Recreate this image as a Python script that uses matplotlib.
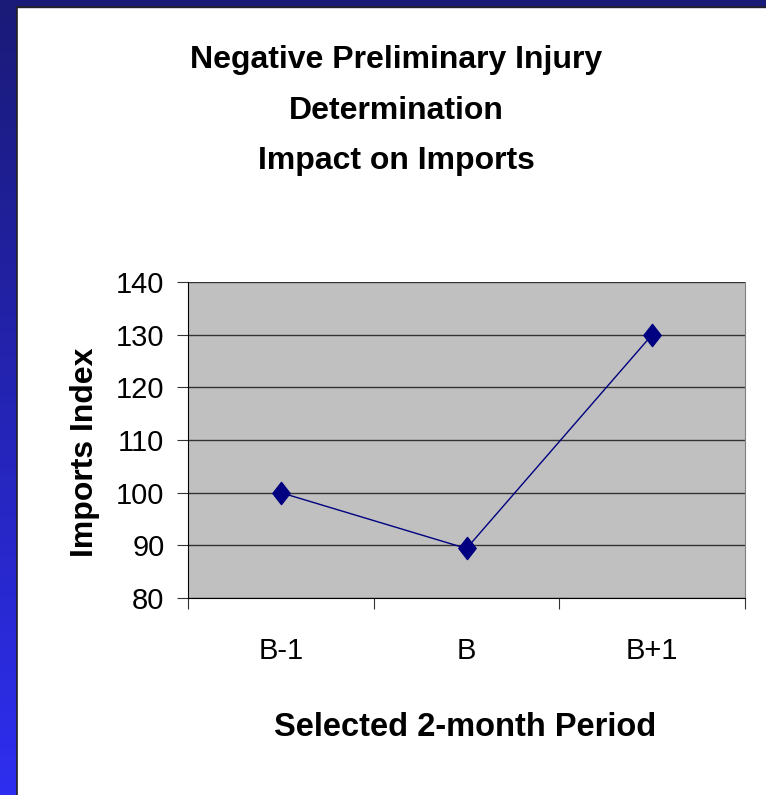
import matplotlib
matplotlib.use("Agg")
import matplotlib.pyplot as plt
import numpy as np
from matplotlib.colors import LinearSegmentedColormap
from matplotlib.path import Path

categories = ["B-1", "B", "B+1"]
values = [100, 89.4, 130]
yticks = [80, 90, 100, 110, 120, 130, 140]

W, H = 766, 795
fig = plt.figure(figsize=(W/100, H/100), dpi=100)
fig.patch.set_facecolor("white")

# background frame: gradient left strip and navy top strip
bg = fig.add_axes([0, 0, 1, 1], zorder=-10)
bg.set_xlim(0, W); bg.set_ylim(H, 0); bg.axis("off")
cmap = LinearSegmentedColormap.from_list("g", ["#1a1a78", "#2e2ef0"])
grad = np.linspace(0, 1, 256).reshape(-1, 1)
bg.imshow(grad, cmap=cmap, extent=[0, 17, H, 0], aspect="auto")
bg.add_patch(plt.Rectangle((0, 0), W, 7, color="#1a1a78"))
bg.plot([16.5, 16.5], [7, H], color="#222222", lw=1.2)
bg.plot([16.5, W], [6.8, 6.8], color="#222222", lw=1.2)

diamond = Path([(0, 1), (0.78, 0), (0, -1), (-0.78, 0), (0, 1)],
               [Path.MOVETO, Path.LINETO, Path.LINETO, Path.LINETO, Path.CLOSEPOLY])

ax = fig.add_axes([188/W, 1-598/H, (745-188)/W, (598-282)/H])
ax.set_facecolor("#c0c0c0")
x = np.arange(len(categories))
ax.plot(x, values, color="#000080", lw=1, marker=diamond, markersize=16,
        markerfacecolor="#000080", markeredgecolor="#000080", zorder=5)
ax.set_xlim(-0.5, 2.5)
ax.set_ylim(80, 140)
ax.set_yticks(yticks)
ax.set_yticklabels([str(v) for v in yticks], fontsize=21, family="Liberation Sans")
ax.yaxis.grid(True, color="#333333", lw=1)
ax.set_axisbelow(True)
ax.set_xticks([-0.5, 0.5, 1.5, 2.5])
ax.set_xticklabels([])
ax.set_xticks(x, minor=True)
ax.set_xticklabels(categories, minor=True, fontsize=21, family="Liberation Sans")
ax.tick_params(axis="x", which="minor", length=0, pad=28)
ax.tick_params(axis="x", which="major", length=8, direction="out", color="#333333")
ax.tick_params(axis="y", length=8, direction="out", color="#333333", pad=9)
ax.spines["top"].set_visible(False)
ax.spines["right"].set_color("#808080")
ax.spines["left"].set_color("black")
ax.spines["bottom"].set_color("black")

title_lines = ["Negative Preliminary Injury", "Determination", "Impact on Imports"]
title_y = [60, 111, 161]
for t, yy in zip(title_lines, title_y):
    fig.text(396/W, 1-yy/H, t, ha="center", va="center", fontsize=23,
             fontweight="bold", family="Liberation Sans")

fig.text(85/W, 1-452/H, "Imports Index", rotation=90, ha="center", va="center",
         fontsize=23, fontweight="bold", family="Liberation Sans")
fig.text(465/W, 1-727/H, "Selected 2-month Period", ha="center", va="center",
         fontsize=23.5, fontweight="bold", family="Liberation Sans")

fig.savefig("out.png", dpi=100)
